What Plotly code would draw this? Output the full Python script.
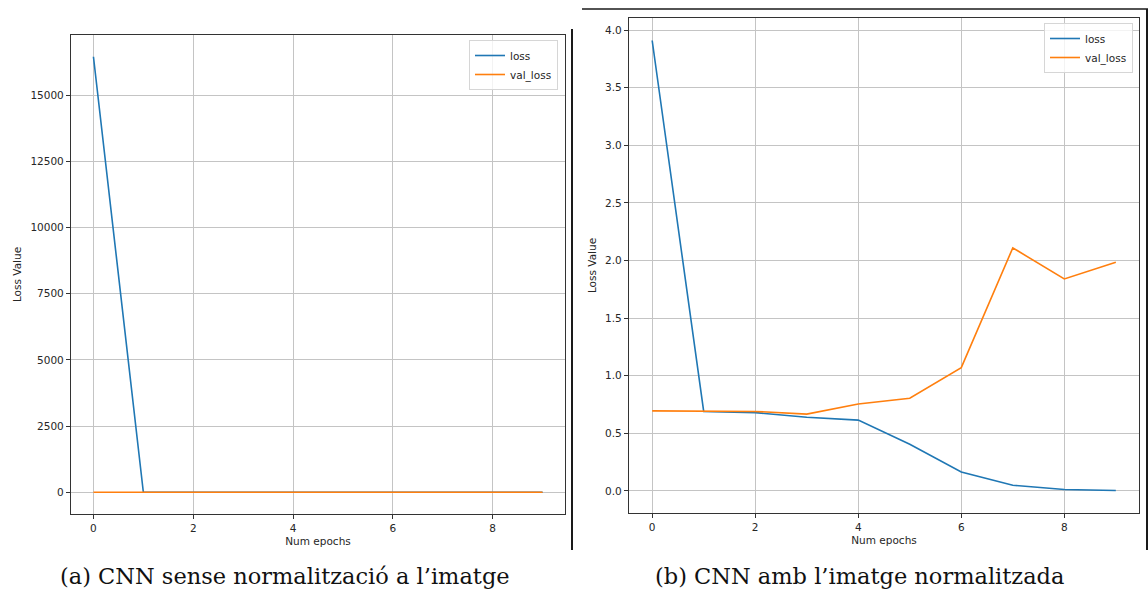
import plotly.graph_objects as go

W, H = 1148, 596

epochs = [0, 1, 2, 3, 4, 5, 6, 7, 8, 9]

# (a) CNN without image normalisation
loss_a = [16450, 0.70, 0.69, 0.69, 0.69, 0.69, 0.69, 0.69, 0.69, 0.69]
val_loss_a = [0.69, 0.69, 0.69, 0.69, 0.69, 0.69, 0.69, 0.69, 0.69, 0.69]

# (b) CNN with normalised image
loss_b = [3.91, 0.69, 0.68, 0.64, 0.615, 0.405, 0.165, 0.05, 0.013, 0.004]
val_loss_b = [0.695, 0.695, 0.69, 0.667, 0.755, 0.805, 1.07, 2.11, 1.84, 1.985]

series_names = ["loss", "val_loss"]
captions = ["(a) CNN sense normalització a l’imatge", "(b) CNN amb l’imatge normalitzada"]
x_title = "Num epochs"
y_title = "Loss Value"

C_BLUE = "#1f77b4"
C_ORANGE = "#ff7f0e"
AX = "#333333"
GRID = "#c4c4c4"
TXT = "#262626"
FONT = "DejaVu Sans"


def px(x):
    return x / W


def py(y):
    return 1 - y / H


fig = go.Figure()

fig.add_trace(go.Scatter(x=epochs, y=loss_a, mode="lines", name=series_names[0],
                         line=dict(color=C_BLUE, width=1.6), xaxis="x", yaxis="y", legend="legend"))
fig.add_trace(go.Scatter(x=epochs, y=val_loss_a, mode="lines", name=series_names[1],
                         line=dict(color=C_ORANGE, width=1.6), xaxis="x", yaxis="y", legend="legend"))
fig.add_trace(go.Scatter(x=epochs, y=loss_b, mode="lines", name=series_names[0],
                         line=dict(color=C_BLUE, width=1.6), xaxis="x2", yaxis="y2", legend="legend2"))
fig.add_trace(go.Scatter(x=epochs, y=val_loss_b, mode="lines", name=series_names[1],
                         line=dict(color=C_ORANGE, width=1.6), xaxis="x2", yaxis="y2", legend="legend2"))


def yrange(*arrs):
    lo = min(min(a) for a in arrs)
    hi = max(max(a) for a in arrs)
    m = 0.05 * (hi - lo)
    return [lo - m, hi + m]


common = dict(showline=True, mirror=True, linecolor=AX, linewidth=1.2,
              ticks="outside", ticklen=4, tickcolor=AX, tickwidth=1,
              showgrid=True, gridcolor=GRID, gridwidth=1, zeroline=False,
              tickfont=dict(family=FONT, size=10.5, color=TXT))

fig.update_layout(
    width=W, height=H,
    margin=dict(l=0, r=0, t=0, b=0),
    paper_bgcolor="white", plot_bgcolor="white",
    showlegend=True,
    xaxis=dict(domain=[px(71), px(565)], anchor="y", range=[-0.45, 9.45], dtick=2, tick0=0,
               title=dict(text=x_title, font=dict(family=FONT, size=10.5, color=TXT), standoff=4),
               **common),
    yaxis=dict(domain=[py(514), py(35)], anchor="x", range=yrange(loss_a, val_loss_a),
               dtick=2500, tick0=0, tickformat="d",
               title=dict(text=y_title, font=dict(family=FONT, size=10.5, color=TXT), standoff=6),
               **common),
    xaxis2=dict(domain=[px(629), px(1139)], anchor="y2", range=[-0.45, 9.45], dtick=2, tick0=0,
                title=dict(text=x_title, font=dict(family=FONT, size=10.5, color=TXT), standoff=4),
                **common),
    yaxis2=dict(domain=[py(513), py(18)], anchor="x2", range=yrange(loss_b, val_loss_b),
                dtick=0.5, tick0=0, tickformat=".1f",
                title=dict(text=y_title, font=dict(family=FONT, size=10.5, color=TXT), standoff=6),
                **common),
    legend=dict(x=px(558), y=py(40), xanchor="right", yanchor="top", xref="paper", yref="paper",
                bgcolor="rgba(255,255,255,0.8)", bordercolor="#d6d6d6", borderwidth=1,
                font=dict(family=FONT, size=10.5, color=TXT), itemwidth=30, tracegroupgap=0),
    legend2=dict(x=px(1133), y=py(23), xanchor="right", yanchor="top", xref="paper", yref="paper",
                 bgcolor="rgba(255,255,255,0.8)", bordercolor="#d6d6d6", borderwidth=1,
                 font=dict(family=FONT, size=10.5, color=TXT), itemwidth=30, tracegroupgap=0),
)

# page decorations (figure frame lines from the source document)
frame = dict(color="#1a1a1a", width=2)
fig.add_shape(type="line", xref="paper", yref="paper", x0=px(572), x1=px(572), y0=py(29), y1=py(550), line=frame)
fig.add_shape(type="line", xref="paper", yref="paper", x0=px(1147), x1=px(1147), y0=py(9), y1=py(550), line=frame)
fig.add_shape(type="line", xref="paper", yref="paper", x0=px(582), x1=px(1148), y0=py(9), y1=py(9),
              line=dict(color="#1a1a1a", width=1.5))

# captions
for cx, txt in zip([285, 859], captions):
    fig.add_annotation(x=px(cx), y=py(576), xref="paper", yref="paper", text=txt, showarrow=False,
                       xanchor="center", yanchor="middle",
                       font=dict(family="DejaVu Serif", size=22.5, color="#111111"))

fig.write_html("out.html",
               config={"displayModeBar": False},
               post_script="document.body.style.margin='0';document.body.style.overflow='hidden';")
